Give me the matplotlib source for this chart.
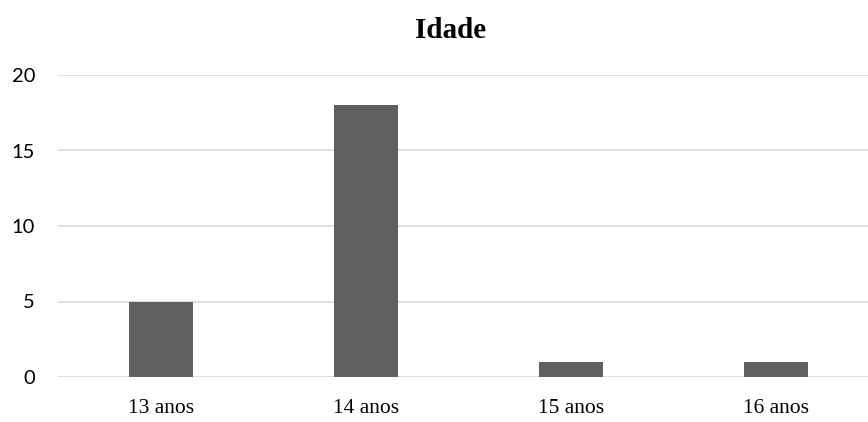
import matplotlib
matplotlib.use('Agg')
import matplotlib.pyplot as plt

# dados do grafico
categorias = ['13 anos', '14 anos', '15 anos', '16 anos']
valores = [5, 18, 1, 1]
y_ticks = [0, 5, 10, 15, 20]

W, H = 868, 422
fig = plt.figure(figsize=(W / 100, H / 100), dpi=100)

# area do grafico em pixels: x de 58 ate a borda, y de 75 a 377
ax = fig.add_axes([58 / W, (H - 377) / H, (W - 58) / W, (377 - 75) / H])

ax.bar(range(len(categorias)), valores, width=0.312, color='#5f5f5f', zorder=3)

ax.set_xlim(-0.5, 3.448)
ax.set_ylim(0, 20)
ax.set_yticks(y_ticks)
ax.set_yticklabels([str(v) for v in y_ticks], family='Lato', fontsize=14.5)
ax.set_xticks(range(len(categorias)))
ax.set_xticklabels(categorias, family='Liberation Serif', fontsize=15.5)

ax.grid(axis='y', color='#d9d9d9', linewidth=1.2, zorder=0)
for lado in ['top', 'right', 'left', 'bottom']:
    ax.spines[lado].set_visible(False)
ax.tick_params(axis='both', length=0)
ax.tick_params(axis='y', pad=16.5)
ax.tick_params(axis='x', pad=16)

fig.text(451 / W, 1 - 30 / H, 'Idade', ha='center', va='center',
         family='Liberation Serif', fontweight='bold', fontsize=21)

fig.savefig('out.png', dpi=100)
